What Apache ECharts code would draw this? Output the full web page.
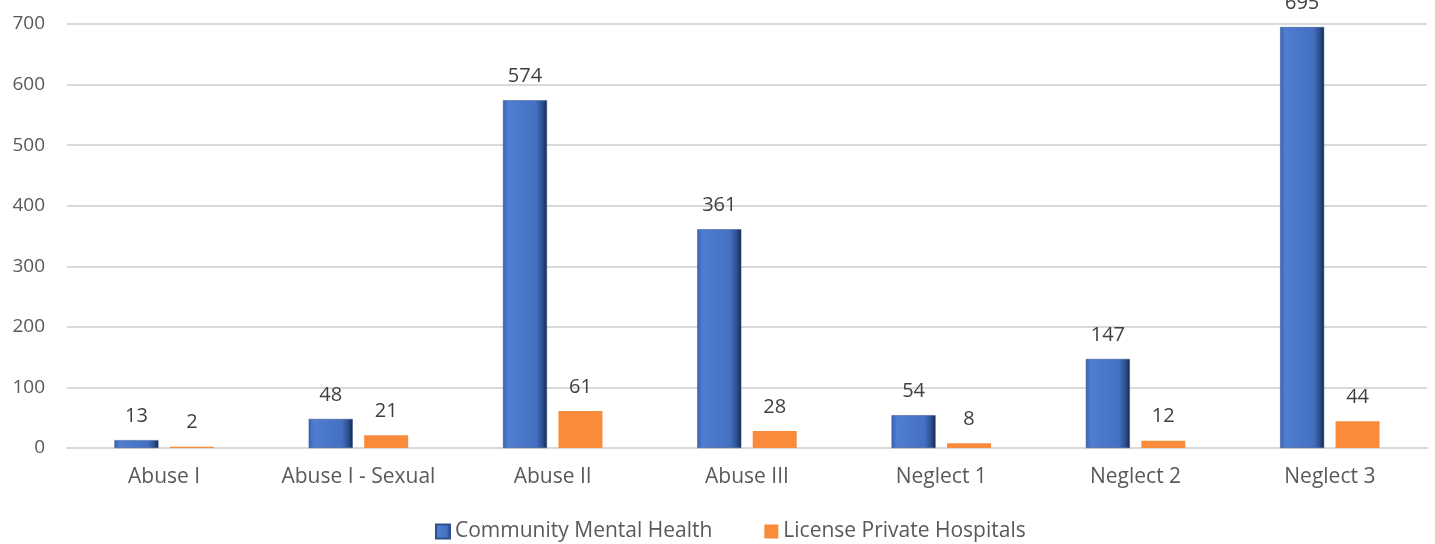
<!DOCTYPE html>
<html>
<head>
<meta charset="utf-8">
<script src="https://cdn.jsdelivr.net/npm/echarts@6/dist/echarts.min.js"></script>
<style>
  html, body { margin: 0; padding: 0; background: #fff; }
  #chart { width: 1435px; height: 544px; }
</style>
</head>
<body>
<div id="chart"></div>
<script>
const categories = ['Abuse I', 'Abuse I - Sexual', 'Abuse II', 'Abuse III', 'Neglect 1', 'Neglect 2', 'Neglect 3'];
const communityMentalHealth = [13, 48, 574, 361, 54, 147, 695];
const licensePrivateHospitals = [2, 21, 61, 28, 8, 12, 44];

const chart = echarts.init(document.getElementById('chart'));

// bevelled look of the blue bars: light left edge, dark right edge
const blueBevel = new echarts.graphic.LinearGradient(0, 0, 1, 0, [
  { offset: 0, color: '#3a64b4' },
  { offset: 0.12, color: '#4f7dd0' },
  { offset: 0.75, color: '#4570c2' },
  { offset: 0.9, color: '#2c4f8e' },
  { offset: 1, color: '#16284d' }
]);

const labelStyle = {
  show: true,
  position: 'top',
  distance: 14,
  fontFamily: 'Open Sans',
  fontSize: 20,
  color: '#404040'
};

chart.setOption({
  animation: false,
  textStyle: { fontFamily: 'Open Sans' },
  grid: { left: 67, right: 8, top: 24, bottom: 96 },
  legend: {
    top: 521,
    left: 435,
    padding: 0,
    itemWidth: 14,
    itemHeight: 14,
    itemGap: 52,
    textStyle: { fontSize: 21, color: '#595959', fontFamily: 'Open Sans' },
    data: [
      { name: 'Community Mental Health', icon: 'rect' },
      { name: 'License Private Hospitals', icon: 'rect' }
    ]
  },
  xAxis: {
    type: 'category',
    data: categories,
    axisLine: { show: true, lineStyle: { color: '#d9d9d9', width: 2 } },
    axisTick: { show: false },
    axisLabel: { fontSize: 21, color: '#595959', margin: 19, interval: 0 }
  },
  yAxis: {
    type: 'value',
    min: 0,
    max: 700,
    interval: 100,
    axisLine: { show: false },
    axisTick: { show: false },
    splitLine: { lineStyle: { color: '#d9d9d9', width: 2 } },
    axisLabel: { fontSize: 19, color: '#595959', margin: 22 }
  },
  series: [
    {
      name: 'Community Mental Health',
      type: 'bar',
      data: communityMentalHealth,
      barWidth: 44,
      barGap: '26%',
      itemStyle: { color: blueBevel, borderColor: '#2f4f8f', borderWidth: 0.5 },
      label: labelStyle
    },
    {
      name: 'License Private Hospitals',
      type: 'bar',
      data: licensePrivateHospitals,
      barWidth: 44,
      itemStyle: { color: '#f98b3a' },
      label: labelStyle
    }
  ]
});
</script>
</body>
</html>
